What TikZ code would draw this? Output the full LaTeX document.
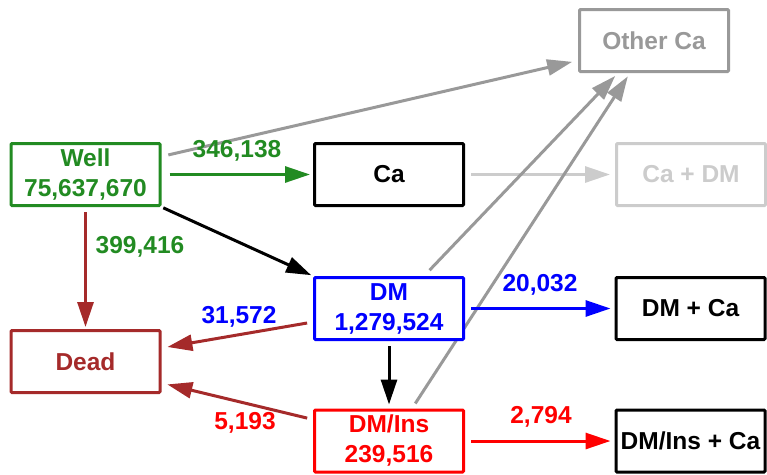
\documentclass[tikz,border=0pt]{standalone}
\usepackage{fontspec}
\setmainfont{Liberation Sans}
\usetikzlibrary{arrows.meta,backgrounds}

\definecolor{cgreen}{HTML}{228B22}
\definecolor{cbrown}{HTML}{A52A2A}
\definecolor{cblue}{HTML}{0000FF}
\definecolor{cred}{HTML}{FF0000}
\definecolor{cgray}{HTML}{999999}
\definecolor{clight}{HTML}{CCCCCC}

\tikzset{
  statebox/.style={draw, fill=white, line width=3pt, rounded corners=1pt,
    minimum width=149pt, minimum height=62pt, inner sep=0pt, align=center,
    font=\fontsize{24.5}{30}\selectfont\bfseries},
  flow/.style={line width=3pt, -{Triangle[length=25pt,width=16pt]}},
  count/.style={font=\fontsize{24.5}{30}\selectfont\bfseries, inner sep=0pt}
}

\begin{document}
\begin{tikzpicture}[x=1pt, y=-1pt]
\useasboundingbox (0,0) rectangle (767,474);

% states
\node[statebox, draw=cgreen, text=cgreen] (well) at (85.5,174.5) {Well\\75,637,670};
\node[statebox, draw=black] (ca) at (389,174.5) {Ca};
\node[statebox, draw=cgray, text=cgray] (other) at (654,40.5) {Other Ca};
\node[statebox, draw=clight, text=clight] (cadm) at (691,174.5) {Ca + DM};
\node[statebox, draw=cblue, text=cblue] (dm) at (389,308.5) {DM\\1,279,524};
\node[statebox, draw=black] (dmca) at (690.5,308.5) {DM + Ca};
\node[statebox, draw=cbrown, text=cbrown] (dead) at (85.5,361.5) {Dead};
\node[statebox, draw=cred, text=cred] (dmins) at (389,441) {DM/Ins\\239,516};
\node[statebox, draw=black] (dminsca) at (690.5,441) {DM/Ins + Ca};

% transitions
\begin{pgfonlayer}{background}
\draw[flow, cgray, shorten <=7pt, shorten >=6pt]
  ([yshift=18pt]well.east) -- ([yshift=-20pt]other.west);
\draw[flow, cgreen, shorten <=8pt, shorten >=3pt] (well.east) -- (ca.west);
\draw[flow, black, shorten <=2pt, shorten >=2pt] (well.south east) -- (dm.north west);
\draw[flow, cbrown, shorten <=5pt, shorten >=2pt] (well.south) -- (dead.north);
\draw[flow, clight, shorten <=6pt, shorten >=5pt] (ca.east) -- (cadm.west);
\draw[flow, cgray, shorten <=8pt, shorten >=4pt]
  ([xshift=35pt]dm.north) -- ([xshift=-36pt]other.south);
\draw[flow, cgray, shorten <=6pt, shorten >=4pt]
  ([xshift=23pt]dmins.north) -- ([xshift=-24pt]other.south);
\draw[flow, cblue, shorten <=6pt, shorten >=4pt] (dm.east) -- (dmca.west);
\draw[flow, cbrown, shorten <=6pt, shorten >=6pt]
  ([yshift=-13.5pt]dm.west) -- ([yshift=13.5pt]dead.east);
\draw[flow, black, shorten <=5pt, shorten >=4pt] (dm.south) -- (dmins.north);
\draw[flow, cbrown, shorten <=6pt, shorten >=6pt]
  ([yshift=21.5pt]dmins.west) -- ([yshift=-21.5pt]dead.east);
\draw[flow, cred, shorten <=6pt, shorten >=4pt] (dmins.east) -- (dminsca.west);
\end{pgfonlayer}

% counts
\node[count, text=cgreen] (l1) at (237,151) {346,138};
\node[count, text=cgreen] (l2) at (140,247) {399,416};
\node[count, text=cblue] (l3) at (239,317) {31,572};
\node[count, text=cred] (l4) at (245,423) {5,193};
\node[count, text=cblue] (l5) at (540,285) {20,032};
\node[count, text=cred] (l6) at (541,417) {2,794};
\end{tikzpicture}
\end{document}
